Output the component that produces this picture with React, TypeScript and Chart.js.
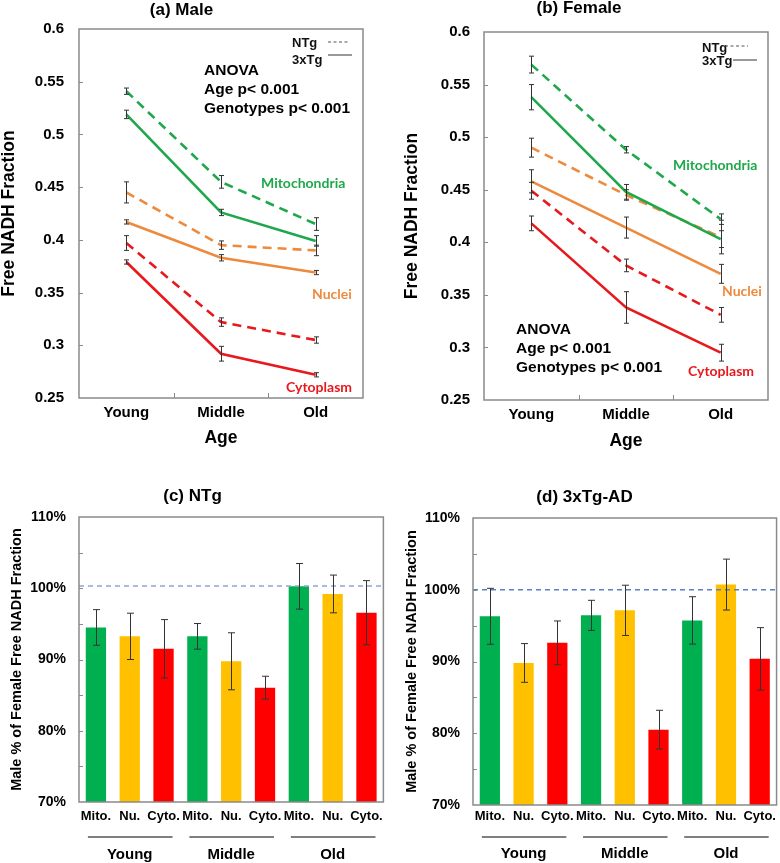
import React, { useEffect, useRef } from "react";
import { Chart, registerables } from "chart.js";
Chart.register(...registerables);

// ---------- data ----------
const AGES = ["Young", "Middle", "Old"];
const LINE_Y_TICKS = [0.25, 0.3, 0.35, 0.4, 0.45, 0.5, 0.55, 0.6];
const LINE_Y_TICK_LABELS = ["0.25", "0.3", "0.35", "0.4", "0.45", "0.5", "0.55", "0.6"];

// (a) Male
const maleMitoNTg = [0.541, 0.455, 0.415];
const maleMitoNTgErr = [0.003, 0.006, 0.006];
const maleMito3x = [0.519, 0.426, 0.399];
const maleMito3xErr = [0.004, 0.003, 0.005];
const maleNucNTg = [0.445, 0.395, 0.39];
const maleNucNTgErr = [0.01, 0.004, 0.005];
const maleNuc3x = [0.417, 0.383, 0.369];
const maleNuc3xErr = [0.002, 0.003, 0.002];
const maleCytNTg = [0.397, 0.322, 0.305];
const maleCytNTgErr = [0.007, 0.004, 0.003];
const maleCyt3x = [0.379, 0.292, 0.272];
const maleCyt3xErr = [0.002, 0.007, 0.002];

// (b) Female
const femMitoNTg = [0.569, 0.488, 0.422];
const femMitoNTgErr = [0.008, 0.003, 0.005];
const femMito3x = [0.538, 0.448, 0.403];
const femMito3xErr = [0.012, 0.007, 0.008];
const femNucNTg = [0.49, 0.445, 0.405];
const femNucNTgErr = [0.009, 0.005, 0.016];
const femNuc3x = [0.458, 0.414, 0.37];
const femNuc3xErr = [0.011, 0.01, 0.009];
const femCytNTg = [0.449, 0.378, 0.331];
const femCytNTgErr = [0.008, 0.006, 0.007];
const femCyt3x = [0.418, 0.338, 0.295];
const femCyt3xErr = [0.007, 0.015, 0.008];

// (c)/(d) bars
const BAR_LABELS = ["Mito.", "Nu.", "Cyto.", "Mito.", "Nu.", "Cyto.", "Mito.", "Nu.", "Cyto."];
const BAR_GROUPS = ["Young", "Middle", "Old"];
const BAR_Y_TICKS = [70, 80, 90, 100, 110];
const BAR_Y_TICK_LABELS = ["70%", "80%", "90%", "100%", "110%"];
const BAR_Y_MINOR = [75, 80, 85, 90, 95, 100, 105];
const ntgPct = [94.5, 93.25, 91.5, 93.25, 89.75, 86.05, 100.27, 99.2, 96.57];
const ntgPctErr = [2.5, 3.25, 4.1, 1.8, 4.0, 1.6, 3.2, 2.65, 4.5];
const tgPct = [96.3, 89.8, 92.6, 96.43, 97.13, 80.5, 95.73, 100.72, 90.37];
const tgPctErr = [3.9, 2.7, 3.05, 2.1, 3.5, 2.7, 3.3, 3.55, 4.35];
const REF_C = 100.3;
const REF_D = 100;

// ---------- styles ----------
const FONT = "'Liberation Sans', Arial, Helvetica, sans-serif";
const LBL_FONT = "Lato, 'Liberation Sans', sans-serif";
const GREEN = "#1FA84B";
const ORANGE = "#EE8A3D";
const RED = "#E8191C";
const BAR_COLORS = ["#00B050", "#FFC000", "#FF0000"];
const FRAME = "#8a8a8a";

function framePlugin(yMinor: number[], xInner: boolean) {
  return {
    id: "frame",
    afterDatasetsDraw(chart: any) {
      const { ctx, chartArea: a } = chart;
      const y = chart.scales.y;
      const x = chart.scales.x;
      ctx.save();
      ctx.strokeStyle = FRAME;
      ctx.lineWidth = 1.5;
      ctx.strokeRect(a.left, a.top, a.right - a.left, a.bottom - a.top);
      ctx.lineWidth = 1;
      ctx.beginPath();
      yMinor.forEach((v) => {
        const py = Math.round(y.getPixelForValue(v)) + 0.5;
        ctx.moveTo(a.left, py);
        ctx.lineTo(a.left + 4, py);
      });
      if (xInner) {
        const n = chart.data.labels.length;
        for (let i = 0; i < n - 1; i++) {
          const px = Math.round((x.getPixelForValue(i) + x.getPixelForValue(i + 1)) / 2) + 0.5;
          ctx.moveTo(px, a.bottom);
          ctx.lineTo(px, a.bottom - 5);
        }
      }
      ctx.stroke();
      ctx.restore();
    },
  };
}

function errorPlugin(color: string, cap: number) {
  return {
    id: "errbars",
    afterDatasetsDraw(chart: any) {
      const { ctx } = chart;
      const y = chart.scales.y;
      ctx.save();
      ctx.strokeStyle = color;
      ctx.lineWidth = 1;
      chart.data.datasets.forEach((ds: any, di: number) => {
        if (!ds.errors) return;
        const meta = chart.getDatasetMeta(di);
        meta.data.forEach((el: any, i: number) => {
          const v = ds.data[i];
          const e = ds.errors[i];
          const px = Math.round(el.x) + 0.5;
          const y1 = y.getPixelForValue(v + e);
          const y2 = y.getPixelForValue(v - e);
          ctx.beginPath();
          ctx.moveTo(px, y1);
          ctx.lineTo(px, y2);
          ctx.moveTo(px - cap, y1);
          ctx.lineTo(px + cap, y1);
          ctx.moveTo(px - cap, y2);
          ctx.lineTo(px + cap, y2);
          ctx.stroke();
        });
      });
      ctx.restore();
    },
  };
}

type TextItem = { text: string; dx: number; dy: number; color: string; font: string };
type LegendSpec = { dx: number; ntgDy: number; tgDy: number; lineNtg: number[]; lineTg: number[] };

function textPlugin(texts: TextItem[], legend: LegendSpec | null) {
  return {
    id: "texts",
    afterDraw(chart: any) {
      const { ctx, chartArea: a } = chart;
      ctx.save();
      ctx.textBaseline = "middle";
      ctx.textAlign = "left";
      texts.forEach((t) => {
        ctx.font = t.font;
        ctx.fillStyle = t.color;
        ctx.fillText(t.text, a.left + t.dx, a.top + t.dy);
      });
      if (legend) {
        ctx.font = `bold 13px ${FONT}`;
        ctx.fillStyle = "#111";
        ctx.fillText("NTg", a.left + legend.dx, a.top + legend.ntgDy);
        ctx.fillText("3xTg", a.left + legend.dx, a.top + legend.tgDy);
        ctx.strokeStyle = "#555";
        ctx.lineWidth = 1.2;
        ctx.setLineDash([3, 2.5]);
        ctx.beginPath();
        ctx.moveTo(a.left + legend.lineNtg[0], a.top + legend.lineNtg[2]);
        ctx.lineTo(a.left + legend.lineNtg[1], a.top + legend.lineNtg[2]);
        ctx.stroke();
        ctx.setLineDash([]);
        ctx.beginPath();
        ctx.moveTo(a.left + legend.lineTg[0], a.top + legend.lineTg[2]);
        ctx.lineTo(a.left + legend.lineTg[1], a.top + legend.lineTg[2]);
        ctx.stroke();
      }
      ctx.restore();
    },
  };
}

function refLinePlugin(value: number, color: string) {
  return {
    id: "refline",
    afterDatasetsDraw(chart: any) {
      const { ctx, chartArea: a } = chart;
      const py = chart.scales.y.getPixelForValue(value);
      ctx.save();
      ctx.strokeStyle = color;
      ctx.lineWidth = 1.5;
      ctx.setLineDash([5, 4]);
      ctx.beginPath();
      ctx.moveTo(a.left, py);
      ctx.lineTo(a.right, py);
      ctx.stroke();
      ctx.restore();
    },
  };
}

function groupPlugin(lineOff: number, labelOff: number) {
  return {
    id: "groups",
    afterDraw(chart: any) {
      const { ctx, chartArea: a } = chart;
      const x = chart.scales.x;
      ctx.save();
      ctx.strokeStyle = "#555";
      ctx.lineWidth = 1.5;
      ctx.fillStyle = "#000";
      ctx.font = `bold 15px ${FONT}`;
      ctx.textAlign = "center";
      ctx.textBaseline = "middle";
      BAR_GROUPS.forEach((g, gi) => {
        const x0 = x.getPixelForValue(gi * 3);
        const x2 = x.getPixelForValue(gi * 3 + 2);
        ctx.beginPath();
        ctx.moveTo(x0 - 8, a.bottom + lineOff);
        ctx.lineTo(x2 + 9, a.bottom + lineOff);
        ctx.stroke();
        ctx.fillText(g, (x0 + x2) / 2, a.bottom + labelOff);
      });
      ctx.restore();
    },
  };
}

function lineDs(label: string, data: number[], errors: number[], color: string, dashed: boolean) {
  return {
    label,
    data,
    errors,
    borderColor: color,
    backgroundColor: color,
    borderWidth: 2.6,
    borderDash: dashed ? [9, 6] : [],
    pointRadius: 0,
    tension: 0,
    fill: false,
  };
}

type LineOpts = {
  title: string;
  datasets: any[];
  yAxisWidth: number;
  padRight: number;
  titlePad: { top: number; bottom: number };
  xAxisHeight: number;
  yTitlePad: number;
  xTitlePadBottom: number;
  yTickPad: number;
  xTickPad: number;
  texts: TextItem[];
  legend: LegendSpec;
};

function lineConfig(o: LineOpts): any {
  const tickFont = { family: FONT, size: 15, weight: "bold" as const };
  return {
    type: "line",
    data: { labels: AGES, datasets: o.datasets },
    options: {
      responsive: false,
      animation: false,
      layout: { padding: { left: 0, right: o.padRight, top: 0, bottom: 0 } },
      plugins: {
        legend: { display: false },
        tooltip: { enabled: false },
        title: {
          display: true,
          text: o.title,
          color: "#000",
          font: { family: FONT, size: 17, weight: "bold", lineHeight: 1 },
          padding: o.titlePad,
        },
      },
      scales: {
        x: {
          type: "category",
          offset: true,
          grid: { display: false, drawTicks: false },
          border: { display: false },
          ticks: { font: tickFont, color: "#000", padding: o.xTickPad, maxRotation: 0, autoSkip: false },
          title: {
            display: true,
            text: "Age",
            color: "#000",
            font: { family: FONT, size: 17.5, weight: "bold", lineHeight: 1 },
            padding: { top: 0, bottom: o.xTitlePadBottom },
          },
          afterFit: (s: any) => {
            s.height = o.xAxisHeight;
          },
        },
        y: {
          min: 0.25,
          max: 0.6,
          grid: { display: false, drawTicks: false },
          border: { display: false },
          ticks: {
            stepSize: 0.05,
            font: tickFont,
            color: "#000",
            padding: o.yTickPad,
            callback: (v: number) => {
              const i = LINE_Y_TICKS.findIndex((t) => Math.abs(t - v) < 1e-6);
              return i >= 0 ? LINE_Y_TICK_LABELS[i] : "";
            },
          },
          title: {
            display: true,
            text: "Free NADH Fraction",
            color: "#000",
            font: { family: FONT, size: 17.5, weight: "bold", lineHeight: 1 },
            padding: { top: o.yTitlePad, bottom: 0 },
          },
          afterFit: (s: any) => {
            s.width = o.yAxisWidth;
          },
        },
      },
    },
    plugins: [
      framePlugin(LINE_Y_TICKS.slice(1, -1), true),
      errorPlugin("#333", 2.5),
      textPlugin(o.texts, o.legend),
    ],
  };
}

type BarOpts = {
  title: string;
  values: number[];
  errors: number[];
  ref: number;
  refColor: string;
  yAxisWidth: number;
  padRight: number;
  titlePad: { top: number; bottom: number };
  xAxisHeight: number;
  yTitlePad: number;
  yTickPad: number;
  xTickPad: number;
  groupLine: number;
  groupLabel: number;
};

function barConfig(o: BarOpts): any {
  return {
    type: "bar",
    data: {
      labels: BAR_LABELS,
      datasets: [
        {
          data: o.values,
          errors: o.errors,
          backgroundColor: BAR_LABELS.map((_, i) => BAR_COLORS[i % 3]),
          borderWidth: 0,
          barPercentage: 0.6,
          categoryPercentage: 1,
        },
      ],
    },
    options: {
      responsive: false,
      animation: false,
      layout: { padding: { left: 0, right: o.padRight, top: 0, bottom: 0 } },
      plugins: {
        legend: { display: false },
        tooltip: { enabled: false },
        title: {
          display: true,
          text: o.title,
          color: "#000",
          font: { family: FONT, size: 17, weight: "bold", lineHeight: 1 },
          padding: o.titlePad,
        },
      },
      scales: {
        x: {
          grid: { display: false, drawTicks: false },
          border: { display: false },
          ticks: {
            font: { family: FONT, size: 13, weight: "bold" },
            color: "#000",
            padding: o.xTickPad,
            maxRotation: 0,
            minRotation: 0,
            autoSkip: false,
          },
          afterFit: (s: any) => {
            s.height = o.xAxisHeight;
          },
        },
        y: {
          min: 70,
          max: 110,
          grid: { display: false, drawTicks: false },
          border: { display: false },
          ticks: {
            stepSize: 10,
            font: { family: FONT, size: 14, weight: "bold" },
            color: "#000",
            padding: o.yTickPad,
            callback: (v: number) => {
              const i = BAR_Y_TICKS.findIndex((t) => Math.abs(t - v) < 1e-6);
              return i >= 0 ? BAR_Y_TICK_LABELS[i] : "";
            },
          },
          title: {
            display: true,
            text: "Male % of Female Free NADH Fraction",
            color: "#000",
            font: { family: FONT, size: 14.5, weight: "bold", lineHeight: 1 },
            padding: { top: o.yTitlePad, bottom: 0 },
          },
          afterFit: (s: any) => {
            s.width = o.yAxisWidth;
          },
        },
      },
    },
    plugins: [
      refLinePlugin(o.ref, o.refColor),
      framePlugin(BAR_Y_MINOR, false),
      errorPlugin("#333", 3.5),
      groupPlugin(o.groupLine, o.groupLabel),
    ],
  };
}

const anovaFont = `bold 15.5px ${FONT}`;
const lblFont = `bold 14px ${LBL_FONT}`;

export default function App() {
  const refA = useRef<HTMLCanvasElement>(null);
  const refB = useRef<HTMLCanvasElement>(null);
  const refC = useRef<HTMLCanvasElement>(null);
  const refD = useRef<HTMLCanvasElement>(null);

  useEffect(() => {
    const charts: Chart[] = [];
    charts.push(
      new Chart(
        refA.current as HTMLCanvasElement,
        lineConfig({
          title: "(a) Male",
          datasets: [
            lineDs("Mito 3xTg", maleMito3x, maleMito3xErr, GREEN, false),
            lineDs("Mito NTg", maleMitoNTg, maleMitoNTgErr, GREEN, true),
            lineDs("Nuc 3xTg", maleNuc3x, maleNuc3xErr, ORANGE, false),
            lineDs("Nuc NTg", maleNucNTg, maleNucNTgErr, ORANGE, true),
            lineDs("Cyt 3xTg", maleCyt3x, maleCyt3xErr, RED, false),
            lineDs("Cyt NTg", maleCytNTg, maleCytNTgErr, RED, true),
          ],
          yAxisWidth: 79,
          padRight: 27,
          titlePad: { top: 1.5, bottom: 10.5 },
          xAxisHeight: 52,
          yTitlePad: 0,
          xTitlePadBottom: 3,
          yTickPad: 15,
          xTickPad: 6,
          texts: [
            { text: "ANOVA", dx: 125, dy: 42, color: "#000", font: anovaFont },
            { text: "Age p< 0.001", dx: 125, dy: 61, color: "#000", font: anovaFont },
            { text: "Genotypes p< 0.001", dx: 125, dy: 80, color: "#000", font: anovaFont },
            { text: "Mitochondria", dx: 182, dy: 154, color: GREEN, font: lblFont },
            { text: "Nuclei", dx: 233, dy: 265, color: ORANGE, font: lblFont },
            { text: "Cytoplasm", dx: 207, dy: 358, color: RED, font: lblFont },
          ],
          legend: { dx: 213, ntgDy: 14, tgDy: 31.5, lineNtg: [249, 269, 13], lineTg: [249, 273, 26] },
        })
      )
    );
    charts.push(
      new Chart(
        refB.current as HTMLCanvasElement,
        lineConfig({
          title: "(b) Female",
          datasets: [
            lineDs("Mito 3xTg", femMito3x, femMito3xErr, GREEN, false),
            lineDs("Mito NTg", femMitoNTg, femMitoNTgErr, GREEN, true),
            lineDs("Nuc 3xTg", femNuc3x, femNuc3xErr, ORANGE, false),
            lineDs("Nuc NTg", femNucNTg, femNucNTgErr, ORANGE, true),
            lineDs("Cyt 3xTg", femCyt3x, femCyt3xErr, RED, false),
            lineDs("Cyt NTg", femCytNTg, femCytNTgErr, RED, true),
          ],
          yAxisWidth: 94,
          padRight: 12,
          titlePad: { top: 0, bottom: 15 },
          xAxisHeight: 50,
          yTitlePad: 13,
          xTitlePadBottom: 0,
          yTickPad: 14,
          xTickPad: 6,
          texts: [
            { text: "ANOVA", dx: 32, dy: 298, color: "#000", font: anovaFont },
            { text: "Age p< 0.001", dx: 32, dy: 317, color: "#000", font: anovaFont },
            { text: "Genotypes p< 0.001", dx: 32, dy: 336, color: "#000", font: anovaFont },
            { text: "Mitochondria", dx: 189, dy: 133, color: GREEN, font: lblFont },
            { text: "Nuclei", dx: 238, dy: 259, color: ORANGE, font: lblFont },
            { text: "Cytoplasm", dx: 204, dy: 339, color: RED, font: lblFont },
          ],
          legend: { dx: 218, ntgDy: 16, tgDy: 29, lineNtg: [241, 264, 14], lineTg: [249, 273, 28] },
        })
      )
    );
    charts.push(
      new Chart(
        refC.current as HTMLCanvasElement,
        barConfig({
          title: "(c) NTg",
          values: ntgPct,
          errors: ntgPctErr,
          ref: REF_C,
          refColor: "#8FA6D2",
          yAxisWidth: 79,
          padRight: 5,
          titlePad: { top: 27.5, bottom: 12.5 },
          xAxisHeight: 61,
          yTitlePad: 9.75,
          yTickPad: 13,
          xTickPad: 7,
          groupLine: 35,
          groupLabel: 53,
        })
      )
    );
    charts.push(
      new Chart(
        refD.current as HTMLCanvasElement,
        barConfig({
          title: "(d) 3xTg-AD",
          values: tgPct,
          errors: tgPctErr,
          ref: REF_D,
          refColor: "#5B80C6",
          yAxisWidth: 83,
          padRight: 1,
          titlePad: { top: 28.5, bottom: 12.5 },
          xAxisHeight: 58,
          yTitlePad: 14.75,
          yTickPad: 13,
          xTickPad: 4,
          groupLine: 32,
          groupLabel: 49,
        })
      )
    );
    return () => charts.forEach((c) => c.destroy());
  }, []);

  const abs = (left: number, top: number): React.CSSProperties => ({
    position: "absolute",
    left,
    top,
    display: "block",
  });

  return (
    <div style={{ position: "absolute", left: 0, top: 0, width: 780, height: 863, background: "#fff" }}>
      <canvas ref={refA} width={390} height={450} style={abs(0, 0)} />
      <canvas ref={refB} width={390} height={450} style={abs(390, 0)} />
      <canvas ref={refC} width={390} height={403} style={abs(0, 460)} />
      <canvas ref={refD} width={390} height={403} style={abs(390, 460)} />
    </div>
  );
}
